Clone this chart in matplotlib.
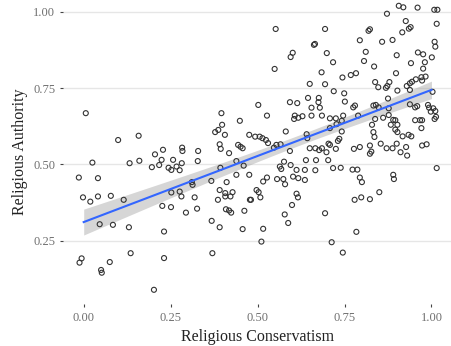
import numpy as np
import matplotlib
matplotlib.use("Agg")
import matplotlib.pyplot as plt

# =========================
# Data
# =========================

conservatism = [
    0.552, 0.665, 0.662, 0.601, 0.595, 0.549, 0.650, 0.645, 0.676,
    0.906, 0.919, 0.960, 0.872, 1.008, 1.017, 0.926, 1.015, 0.694, 0.823,
    0.819, 0.916, 0.940, 0.935, 0.794, 0.858, 0.888, 1.009, 1.011, 0.699,
    0.811, 0.961, 0.976, 0.900, 1.001, 0.717, 0.806, 0.941, 0.981, 0.835,
    0.976, 0.684, 0.898, 0.744, 0.768, 0.783, 0.971, 0.983, 0.694, 0.838,
    0.847, 0.873, 0.879, 0.869, 0.902, 0.929, 0.938, 0.944, 0.955, 0.973,
    0.938, 1.003, 0.719, 0.749, 0.875,
    0.675, 0.655, 0.679, 0.751, 0.775, 0.780, 0.833, 0.840, 0.848, 0.877,
    0.938, 0.953, 0.959, 0.990, 0.993, 1.005, 1.011, 0.998, 0.655, 0.685,
    0.708, 0.725, 0.746, 0.742, 0.789, 0.838, 0.861, 0.877, 0.890, 0.896,
    0.883, 0.902, 0.953, 0.967, 0.973, 1.013, 1.009, 0.971, 0.727, 0.708,
    0.742, 0.829, 0.833, 0.836, 0.896, 0.902, 0.917, 0.934, 0.942, 0.735,
    0.731, 0.704, 0.708, 0.854, 0.900, 0.973, 0.986, 0.650, 0.666, 0.677,
    0.685, 0.725, 0.777, 0.794, 0.823, 0.827, 0.823, 0.871, 0.888, 0.927,
    0.911, 0.930, 0.698, 0.703, 0.668, 0.717, 0.739, 0.773, 0.787, 0.666,
    1.015, 0.794, 0.800, 0.890, 0.892, 0.850,
    0.779, 0.798, 0.823, 0.694, 0.784, 0.713, 0.745,
    0.502, 0.593, 0.614, 0.396, 0.527, 0.607, 0.605, 0.617, 0.629, 0.449,
    0.398, 0.387, 0.378, 0.406, 0.476, 0.493, 0.506, 0.514, 0.524, 0.530,
    0.581, 0.641, 0.643, 0.391, 0.394, 0.444, 0.451, 0.457, 0.554, 0.566,
    0.547, 0.329, 0.418, 0.593, 0.328, 0.439, 0.460, 0.393, 0.576, 0.595,
    0.639, 0.564, 0.568, 0.612, 0.636, 0.311, 0.367, 0.411, 0.439, 0.476,
    0.516, 0.527, 0.556, 0.574, 0.579, 0.602, 0.617, 0.636, 0.391, 0.407,
    0.428, 0.497, 0.503, 0.612,
    0.319, 0.326, 0.386, 0.407, 0.422, 0.409, 0.418, 0.424, 0.478, 0.481,
    0.508, 0.462, 0.368, 0.391, 0.457, 0.516, 0.511, 0.370, 0.616, 0.599,
    0.578, 0.588,
    0.006, 0.099, 0.158, 0.283, 0.284, 0.228, 0.205, 0.224, 0.257, 0.160,
    0.132, 0.025, 0.217, 0.196, 0.244, 0.252, 0.267, 0.276, 0.282, -0.014,
    0.041, 0.313, 0.252, 0.276,
    -0.002, 0.019, 0.041, 0.078, 0.115, 0.281, 0.226, 0.251, 0.294, 0.046,
    0.084, 0.130, 0.231, -0.006, -0.012, 0.075, 0.135, 0.231, 0.050, 0.052,
    0.202,
]

authority = [
    0.944, 0.895, 0.892, 0.866, 0.852, 0.813, 0.764, 0.718, 0.718,
    1.020, 1.015, 1.014, 0.994, 1.007, 1.007, 0.970, 0.961, 0.944, 0.943,
    0.938, 0.933, 0.950, 0.945, 0.907, 0.902, 0.908, 0.902, 0.886, 0.865,
    0.869, 0.867, 0.861, 0.858, 0.851, 0.835, 0.839, 0.832, 0.835, 0.821,
    0.814, 0.802, 0.799, 0.785, 0.793, 0.799, 0.786, 0.788, 0.763, 0.770,
    0.753, 0.757, 0.770, 0.751, 0.742, 0.757, 0.766, 0.771, 0.779, 0.775,
    0.744, 0.738, 0.740, 0.733, 0.716,
    0.704, 0.686, 0.686, 0.706, 0.687, 0.693, 0.693, 0.695, 0.687, 0.684,
    0.697, 0.687, 0.691, 0.695, 0.686, 0.684, 0.675, 0.673, 0.660, 0.660,
    0.651, 0.651, 0.660, 0.643, 0.660, 0.649, 0.653, 0.662, 0.646, 0.645,
    0.630, 0.630, 0.645, 0.645, 0.645, 0.656, 0.649, 0.619, 0.632, 0.619,
    0.608, 0.630, 0.606, 0.590, 0.614, 0.606, 0.592, 0.597, 0.592, 0.584,
    0.577, 0.568, 0.564, 0.568, 0.568, 0.562, 0.566, 0.553, 0.553, 0.547,
    0.553, 0.551, 0.551, 0.557, 0.562, 0.542, 0.535, 0.553, 0.553, 0.557,
    0.540, 0.529, 0.540, 0.514, 0.514, 0.488, 0.489, 0.483, 0.483, 0.481,
    0.488, 0.457, 0.442, 0.466, 0.452, 0.409,
    0.384, 0.392, 0.386, 0.340, 0.279, 0.245, 0.211,
    0.695, 0.704, 0.701, 0.668, 0.660, 0.660, 0.649, 0.653, 0.658, 0.643,
    0.630, 0.613, 0.606, 0.597, 0.597, 0.591, 0.591, 0.586, 0.580, 0.570,
    0.608, 0.599, 0.586, 0.566, 0.551, 0.564, 0.558, 0.553, 0.564, 0.566,
    0.555, 0.544, 0.537, 0.544, 0.511, 0.511, 0.496, 0.489, 0.509, 0.498,
    0.514, 0.493, 0.485, 0.482, 0.482, 0.442, 0.446, 0.442, 0.466, 0.466,
    0.444, 0.457, 0.452, 0.452, 0.435, 0.460, 0.455, 0.449, 0.416, 0.406,
    0.409, 0.416, 0.409, 0.404,
    0.392, 0.355, 0.384, 0.395, 0.395, 0.353, 0.349, 0.342, 0.384, 0.384,
    0.392, 0.348, 0.315, 0.294, 0.288, 0.289, 0.247, 0.209, 0.392, 0.367,
    0.336, 0.308,
    0.668, 0.580, 0.594, 0.555, 0.544, 0.548, 0.533, 0.515, 0.515, 0.512,
    0.504, 0.506, 0.498, 0.491, 0.489, 0.482, 0.493, 0.481, 0.504, 0.457,
    0.455, 0.433, 0.408, 0.411,
    0.392, 0.378, 0.395, 0.397, 0.384, 0.395, 0.364, 0.360, 0.342, 0.304,
    0.302, 0.294, 0.280, 0.192, 0.178, 0.180, 0.209, 0.193, 0.154, 0.145,
    0.089,
]

x_ticks = [0.00, 0.25, 0.50, 0.75, 1.00]
y_ticks = [0.25, 0.50, 0.75, 1.00]

x = np.array(conservatism)
y = np.array(authority)

# =========================
# Linear fit + 95% CI
# =========================

n = len(x)
slope, intercept = np.polyfit(x, y, 1)
resid = y - (intercept + slope * x)
s = np.sqrt(np.sum(resid ** 2) / (n - 2))
x_mean = x.mean()
sxx = np.sum((x - x_mean) ** 2)

x_line = np.linspace(0, 1, 100)
y_line = intercept + slope * x_line
se = s * np.sqrt(1 / n + (x_line - x_mean) ** 2 / sxx)
t_val = 1.968

# =========================
# Plot
# =========================

plt.rcParams["font.family"] = ["Liberation Serif", "DejaVu Serif"]

fig = plt.figure(figsize=(4.52, 3.46), dpi=100)
ax = fig.add_axes([0.139, 0.121, 0.861, 0.879])

ax.fill_between(x_line, y_line - t_val * se, y_line + t_val * se,
                color="#999999", alpha=0.4, linewidth=0, zorder=2)
ax.scatter(x, y, s=13, facecolors="none", edgecolors="#333333",
           linewidths=0.8, zorder=3)
ax.plot(x_line, y_line, color="#3366FF", linewidth=1.5, zorder=4)

ax.set_xlim(-0.060, 1.059)
ax.set_ylim(0.042, 1.039)
ax.set_xticks(x_ticks)
ax.set_yticks(y_ticks)
ax.set_xticklabels([f"{v:.2f}" for v in x_ticks])
ax.set_yticklabels([f"{v:.2f}" for v in y_ticks])

ax.grid(axis="y", color="#e6e6e6", linewidth=1.0, zorder=0)
ax.set_axisbelow(True)
for side in ax.spines.values():
    side.set_visible(False)

ax.tick_params(axis="both", length=2.5, width=0.8, color="#444444",
               labelcolor="#707070", labelsize=9, pad=3)

ax.set_xlabel("Religious Conservatism", fontsize=11.5, color="#222222",
              labelpad=4)
ax.set_ylabel("Religious Authority", fontsize=11.5, color="#222222",
              labelpad=4)

fig.savefig("out.png", dpi=100)
